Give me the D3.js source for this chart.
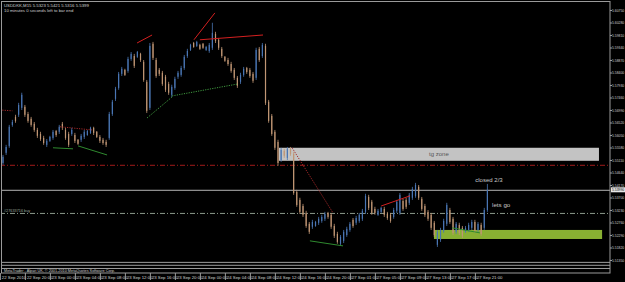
<!DOCTYPE html>
<html>
<head>
<meta charset="utf-8">
<script src="https://cdn.jsdelivr.net/npm/d3@7"></script>
<style>
  html, body { margin: 0; padding: 0; background: #000; }
  svg { display: block; }
</style>
</head>
<body>
<div id="chart"></div>
<script>
// USDDKK M15 chart, bars as [open, high, low, close]
const bars = [
  [5.5500,5.5530,5.5493,5.5523],[5.5538,5.5568,5.5530,5.5560],[5.5564,5.5643,5.5557,5.5636],[5.5643,5.5662,5.5636,5.5654],
  [5.5673,5.5681,5.5651,5.5658],[5.5681,5.5726,5.5673,5.5718],[5.5707,5.5764,5.5699,5.5756],[5.5711,5.5718,5.5673,5.5681],
  [5.5684,5.5692,5.5651,5.5658],[5.5666,5.5673,5.5636,5.5643],[5.5647,5.5654,5.5617,5.5624],[5.5624,5.5632,5.5594,5.5602],
  [5.5609,5.5617,5.5583,5.5590],[5.5594,5.5602,5.5568,5.5575],[5.5568,5.5590,5.5560,5.5583],[5.5583,5.5602,5.5579,5.5598],
  [5.5594,5.5624,5.5587,5.5617],[5.5620,5.5624,5.5598,5.5605],[5.5617,5.5643,5.5609,5.5636],[5.5647,5.5654,5.5624,5.5632],
  [5.5624,5.5632,5.5587,5.5594],[5.5609,5.5617,5.5560,5.5568],[5.5609,5.5632,5.5602,5.5624],[5.5605,5.5613,5.5575,5.5583],
  [5.5587,5.5590,5.5568,5.5572],[5.5587,5.5609,5.5579,5.5602],[5.5598,5.5624,5.5590,5.5617],[5.5605,5.5624,5.5602,5.5620],
  [5.5613,5.5636,5.5609,5.5632],[5.5632,5.5636,5.5605,5.5613],[5.5617,5.5620,5.5594,5.5598],[5.5598,5.5605,5.5575,5.5583],
  [5.5587,5.5594,5.5568,5.5575],[5.5579,5.5587,5.5560,5.5568],[5.5594,5.5692,5.5587,5.5684],[5.5684,5.5737,5.5677,5.5730],
  [5.5741,5.5786,5.5733,5.5779],[5.5782,5.5842,5.5775,5.5835],[5.5835,5.5861,5.5827,5.5854],[5.5850,5.5854,5.5827,5.5831],
  [5.5846,5.5899,5.5839,5.5891],[5.5891,5.5917,5.5884,5.5910],[5.5902,5.5910,5.5857,5.5865],[5.5899,5.5921,5.5895,5.5917],
  [5.5910,5.5914,5.5880,5.5887],[5.5880,5.5887,5.5805,5.5812],[5.5805,5.5812,5.5688,5.5696],[5.5707,5.5951,5.5699,5.5940],
  [5.5948,5.5955,5.5887,5.5895],[5.5887,5.5895,5.5820,5.5827],[5.5850,5.5857,5.5827,5.5835],[5.5839,5.5846,5.5790,5.5797],
  [5.5824,5.5831,5.5767,5.5775],[5.5797,5.5805,5.5756,5.5764],[5.5756,5.5794,5.5748,5.5786],[5.5782,5.5824,5.5775,5.5816],
  [5.5824,5.5846,5.5816,5.5839],[5.5831,5.5865,5.5824,5.5857],[5.5857,5.5906,5.5850,5.5899],[5.5902,5.5929,5.5895,5.5921],
  [5.5925,5.5948,5.5921,5.5944],[5.5951,5.5955,5.5933,5.5936],[5.5940,5.5959,5.5936,5.5955],[5.5944,5.5948,5.5925,5.5929],
  [5.5948,5.5951,5.5929,5.5933],[5.5925,5.5940,5.5921,5.5936],[5.5921,5.5951,5.5914,5.5944],[5.5933,5.6027,5.5925,5.5989],
  [5.5985,5.5993,5.5951,5.5959],[5.5963,5.5970,5.5925,5.5933],[5.5929,5.5936,5.5895,5.5902],[5.5899,5.5902,5.5880,5.5884],
  [5.5887,5.5895,5.5865,5.5872],[5.5872,5.5880,5.5839,5.5846],[5.5850,5.5857,5.5812,5.5820],[5.5820,5.5827,5.5782,5.5790],
  [5.5805,5.5839,5.5797,5.5831],[5.5831,5.5861,5.5824,5.5854],[5.5857,5.5861,5.5835,5.5842],[5.5850,5.5857,5.5820,5.5827],
  [5.5835,5.5842,5.5801,5.5809],[5.5820,5.5933,5.5812,5.5925],[5.5929,5.5936,5.5880,5.5887],[5.5902,5.5951,5.5895,5.5944],
  [5.5940,5.5948,5.5718,5.5726],[5.5730,5.5737,5.5651,5.5658],[5.5677,5.5684,5.5602,5.5609],[5.5617,5.5624,5.5549,5.5557],
  [5.5579,5.5587,5.5489,5.5500],[5.5511,5.5557,5.5504,5.5549],[5.5545,5.5553,5.5519,5.5527],[5.5519,5.5560,5.5511,5.5553],
  [5.5553,5.5560,5.5527,5.5534],[5.5534,5.5542,5.5380,5.5387],[5.5391,5.5399,5.5335,5.5342],[5.5361,5.5369,5.5308,5.5316],
  [5.5338,5.5346,5.5297,5.5305],[5.5312,5.5320,5.5256,5.5263],[5.5271,5.5278,5.5233,5.5241],[5.5260,5.5286,5.5252,5.5278],
  [5.5263,5.5282,5.5260,5.5278],[5.5275,5.5297,5.5267,5.5290],[5.5282,5.5305,5.5275,5.5297],[5.5290,5.5316,5.5282,5.5308],
  [5.5312,5.5316,5.5290,5.5297],[5.5305,5.5312,5.5252,5.5260],[5.5263,5.5271,5.5218,5.5226],[5.5233,5.5241,5.5196,5.5203],
  [5.5196,5.5229,5.5188,5.5222],[5.5207,5.5248,5.5199,5.5241],[5.5229,5.5260,5.5222,5.5252],[5.5248,5.5278,5.5241,5.5271],
  [5.5286,5.5293,5.5256,5.5263],[5.5275,5.5301,5.5267,5.5293],[5.5282,5.5312,5.5275,5.5305],[5.5290,5.5327,5.5282,5.5320],
  [5.5316,5.5384,5.5308,5.5376],[5.5372,5.5380,5.5323,5.5331],[5.5354,5.5361,5.5305,5.5312],[5.5327,5.5335,5.5305,5.5312],
  [5.5305,5.5327,5.5301,5.5320],[5.5316,5.5335,5.5312,5.5331],[5.5327,5.5335,5.5297,5.5305],[5.5308,5.5316,5.5286,5.5293],
  [5.5305,5.5312,5.5275,5.5282],[5.5297,5.5331,5.5290,5.5323],[5.5320,5.5361,5.5312,5.5354],[5.5312,5.5387,5.5305,5.5380],
  [5.5357,5.5365,5.5320,5.5327],[5.5361,5.5369,5.5327,5.5335],[5.5350,5.5387,5.5342,5.5380],[5.5369,5.5410,5.5361,5.5402],
  [5.5376,5.5425,5.5369,5.5417],[5.5410,5.5417,5.5361,5.5369],[5.5365,5.5372,5.5320,5.5327],[5.5338,5.5346,5.5297,5.5305],
  [5.5316,5.5323,5.5282,5.5290],[5.5305,5.5312,5.5248,5.5256],[5.5275,5.5282,5.5222,5.5229],[5.5192,5.5248,5.5184,5.5241],
  [5.5211,5.5256,5.5203,5.5248],[5.5244,5.5290,5.5237,5.5282],[5.5271,5.5350,5.5263,5.5342],[5.5323,5.5331,5.5271,5.5278],
  [5.5290,5.5297,5.5229,5.5237],[5.5241,5.5278,5.5233,5.5271],[5.5267,5.5275,5.5229,5.5237],[5.5256,5.5263,5.5218,5.5226],
  [5.5241,5.5263,5.5237,5.5256],[5.5248,5.5275,5.5241,5.5267],[5.5256,5.5286,5.5248,5.5278],[5.5278,5.5286,5.5237,5.5244],
  [5.5248,5.5278,5.5241,5.5271],[5.5267,5.5275,5.5226,5.5233],[5.5256,5.5331,5.5248,5.5323],[5.5323,5.5421,5.5316,5.5399]
];

const priceTicks = [5.6075,5.6028,5.5981,5.5934,5.5887,5.5840,5.5793,5.5746,5.5699,5.5652,5.5605,
                    5.5558,5.5511,5.5464,5.5417,5.5370,5.5323,5.5276,5.5229,5.5182,5.5135];

const timeLabels = ["22 Sep 2010","22 Sep 20:00","23 Sep 00:00","23 Sep 04:00","23 Sep 08:00","23 Sep 12:00",
  "23 Sep 16:00","23 Sep 20:00","24 Sep 00:00","24 Sep 04:00","24 Sep 08:00","24 Sep 12:00","24 Sep 16:00",
  "24 Sep 20:00","27 Sep 01:00","27 Sep 05:00","27 Sep 09:00","27 Sep 13:00","27 Sep 17:00","27 Sep 21:00"];

// horizontal levels
const stopLevel = 5.5493;
const bidPrice = 5.5399;
const orderPrice = 5.5312;
const bottomLevels = [5.5128, 5.5117, 5.5105];

// trend lines, [[barIndex, price], [barIndex, price]]
const redTrends = [
  [[42.9, 5.5951], [47.7, 5.5981]],
  [[61.1, 5.5963], [67.8, 5.6064]],
  [[63.0, 5.5963], [83.2, 5.5981]],
  [[121.0, 5.5338], [130.2, 5.5376]]
];
const redDotted = [
  [[-1.0, 5.5699], [3.0, 5.5696]],
  [[18.2, 5.5636], [28.5, 5.5624]],
  [[92.5, 5.5557], [105.6, 5.5312]]
];
const greenTrends = [
  [[16.0, 5.5557], [22.4, 5.5553]],
  [[24.0, 5.5564], [33.3, 5.5530]],
  [[98.2, 5.5207], [108.8, 5.5188]],
  [[143.7, 5.5256], [152.6, 5.5237]]
];
const greenDotted = [
  [[46.1, 5.5669], [54.1, 5.5748]],
  [[54.1, 5.5752], [75.2, 5.5797]]
];

// rectangles [bar from, bar to, price top, price bottom]
const tgZone = [88.3, 190.7, 5.5557, 5.5508];
const buyZone = [137.9, 191.7, 5.5248, 5.5214];

const W = 625, H = 282;
const plotRight = 610, plotBottom = 273;
const font = "'Liberation Sans', Arial, sans-serif";

const svg = d3.select("#chart").append("svg")
  .attr("width", W).attr("height", H)
  .style("background", "#000")
  .style("font-family", font);

const x = d3.scaleLinear().domain([0, bars.length - 1]).range([3, 487.4]);
const y = d3.scaleLinear().domain([5.6075, 5.5135]).range([10, 260]);

svg.append("clipPath").attr("id", "plot")
  .append("rect").attr("x", 1.5).attr("y", 1.5)
  .attr("width", plotRight - 1.5).attr("height", plotBottom - 1.5);

const plot = svg.append("g").attr("clip-path", "url(#plot)");

// zones drawn behind the bars
const zones = [
  { r: tgZone, fill: "#c3c3c3" },
  { r: buyZone, fill: "#88b032" }
];
plot.selectAll(".zone").data(zones).enter().append("rect")
  .attr("x", d => x(d.r[0]))
  .attr("y", d => y(d.r[2]))
  .attr("width", d => x(d.r[1]) - x(d.r[0]))
  .attr("height", d => y(d.r[3]) - y(d.r[2]))
  .attr("fill", d => d.fill);

// horizontal lines
plot.append("line")
  .attr("x1", 0).attr("x2", plotRight)
  .attr("y1", y(stopLevel) + 0.5).attr("y2", y(stopLevel) + 0.5)
  .attr("stroke", "#a11a1a").attr("stroke-dasharray", "5,2,1,2");

plot.append("line")
  .attr("x1", 0).attr("x2", plotRight)
  .attr("y1", y(bidPrice) + 0.5).attr("y2", y(bidPrice) + 0.5)
  .attr("stroke", "#b4b4b4");

plot.append("line")
  .attr("x1", 0).attr("x2", plotRight)
  .attr("y1", y(orderPrice) + 0.5).attr("y2", y(orderPrice) + 0.5)
  .attr("stroke", "#8c9a8c").attr("stroke-dasharray", "5,2,1,2");

plot.selectAll(".level").data(bottomLevels).enter().append("line")
  .attr("x1", 0).attr("x2", plotRight)
  .attr("y1", d => y(d) + 0.5).attr("y2", d => y(d) + 0.5)
  .attr("stroke", "#a0a0a0");

// bars
const bull = "#4a76b4", bear = "#c09674";
const candles = plot.selectAll(".bar").data(bars).enter().append("g");
candles.append("line")
  .attr("x1", (d, i) => x(i)).attr("x2", (d, i) => x(i))
  .attr("y1", d => y(d[1])).attr("y2", d => y(d[2]))
  .attr("stroke", d => d[3] >= d[0] ? bull : bear)
  .attr("stroke-width", 0.8);
candles.append("rect")
  .attr("x", (d, i) => x(i) - 0.6)
  .attr("y", d => y(Math.max(d[0], d[3])))
  .attr("width", 1.2)
  .attr("height", d => Math.max(1, Math.abs(y(d[0]) - y(d[3]))))
  .attr("fill", d => d[3] >= d[0] ? bull : bear);

// trend lines
const seg = (sel, data, color, dash) => sel.selectAll(null).data(data).enter().append("line")
  .attr("x1", d => x(d[0][0])).attr("y1", d => y(d[0][1]))
  .attr("x2", d => x(d[1][0])).attr("y2", d => y(d[1][1]))
  .attr("stroke", color).attr("stroke-width", 1)
  .attr("stroke-dasharray", dash);
seg(plot, redTrends, "#d42020", null);
seg(plot, redDotted, "#a32828", "1.2,1.2");
seg(plot, greenTrends, "#2f8a2f", null);
seg(plot, greenDotted, "#3f9a3f", "1.2,1.2");

// chart texts
plot.append("text").attr("x", x((tgZone[0] + tgZone[1]) / 2)).attr("y", y((tgZone[2] + tgZone[3]) / 2) + 2)
  .attr("text-anchor", "middle").attr("font-size", 6).attr("fill", "#555").text("tg zone");
plot.append("text").attr("x", x(159.4)).attr("y", y(5.5342) + 2)
  .attr("text-anchor", "middle").attr("font-size", 6.2).attr("fill", "#c8c8c8").text("lets go");
plot.append("text").attr("x", x(155.5)).attr("y", y(5.5436) + 2)
  .attr("text-anchor", "middle").attr("font-size", 6).attr("fill", "#c8c8c8").text("closed 2/3");
plot.append("text").attr("x", 4).attr("y", y(orderPrice) - 1)
  .attr("font-size", 3.8).attr("fill", "#9aa59a").text("#27633716 buy");

// header
const last = bars[bars.length - 1];
svg.append("text").attr("x", 4).attr("y", 7).attr("font-size", 4.3).attr("fill", "#d0d0d0")
  .text(`USDDKK,M15  ${last.map(v => v.toFixed(4)).join(" ")}`);
svg.append("text").attr("x", 4).attr("y", 12).attr("font-size", 4.3).attr("fill", "#d0d0d0")
  .text("10 minutes 0 seconds left to bar end");
svg.append("text").attr("x", 4).attr("y", 271.5).attr("font-size", 3.8).attr("fill", "#d0d0d0")
  .text("MetaTrader - Alpari UK, \u00a9 2001-2010 MetaQuotes Software Corp.");

// frame
svg.append("rect").attr("x", 1.5).attr("y", 1.5)
  .attr("width", plotRight - 1.5).attr("height", plotBottom - 1.5)
  .attr("fill", "none").attr("stroke", "#9a9a9a");

// price axis
const yAxis = d3.axisRight(y).tickValues(priceTicks).tickSize(2).tickFormat(d => d.toFixed(5));
const ya = svg.append("g").attr("transform", `translate(${plotRight},0)`).call(yAxis);
ya.select(".domain").remove();
ya.selectAll("line").attr("stroke", "#9a9a9a");
ya.selectAll("text").attr("x", 2).attr("font-size", 3.4).attr("fill", "#d0d0d0")
  .attr("font-family", font);

// bid price marker
svg.append("rect").attr("x", plotRight + 1).attr("y", y(bidPrice) - 2.5)
  .attr("width", W - plotRight - 1).attr("height", 5).attr("fill", "#e6e6e6");
svg.append("text").attr("x", plotRight + 2).attr("y", y(bidPrice) + 1.2)
  .attr("font-size", 3.4).attr("fill", "#000")
  .text(bidPrice.toFixed(5));

// time axis: one label every 8 bars here
const timeTicks = d3.range(timeLabels.length).map(k => k * 8 - 1);
const xAxis = d3.axisBottom(x).tickValues(timeTicks).tickSize(7)
  .tickFormat((d, i) => timeLabels[i]);
const xa = svg.append("g").attr("transform", `translate(0,${plotBottom})`).call(xAxis);
xa.select(".domain").remove();
xa.selectAll("line").attr("stroke", "#9a9a9a");
xa.selectAll("text").attr("text-anchor", "start").attr("x", 1.5).attr("y", 3)
  .attr("dy", "0.71em").attr("font-size", 4.3).attr("fill", "#d0d0d0")
  .attr("font-family", font);
</script>
</body>
</html>
